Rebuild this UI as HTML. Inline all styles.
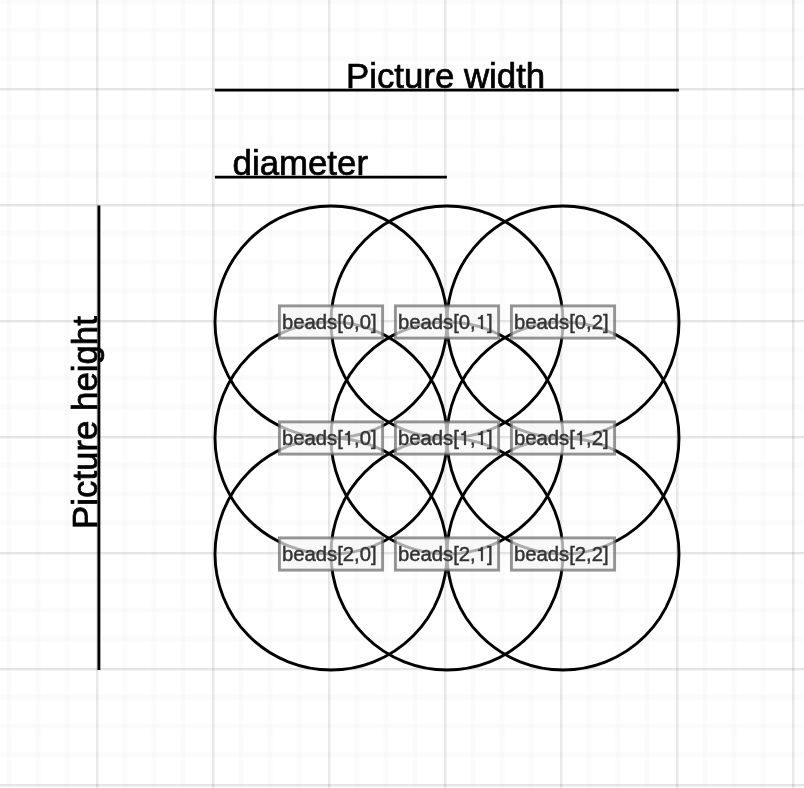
<!DOCTYPE html>
<html><head><meta charset="utf-8"><style>
html,body{margin:0;padding:0;background:#fff;width:804px;height:788px;overflow:hidden}
svg{display:block;will-change:transform}
text{font-family:"Liberation Sans",sans-serif}
.lb{fill:#f5f5f5;fill-opacity:0.7;stroke:#666;stroke-opacity:0.7;stroke-width:2.9}
.lt{font-size:20.3px;fill:#333;stroke:#333;stroke-width:0.45}
.h{fill:none;stroke:none}
.one{fill:#333;stroke:#333;stroke-width:12}
.big{font-size:34.8px;fill:#000;stroke:#000;stroke-width:0.7}
</style></head><body>
<svg width="804" height="788" viewBox="0 0 804 788">
<g fill="#000" shape-rendering="crispEdges">
<rect x="6" y="0" width="1" height="788" fill-opacity="0.008"/>
<rect x="7" y="0" width="1" height="788" fill-opacity="0.016"/>
<rect x="8" y="0" width="1" height="788" fill-opacity="0.016"/>
<rect x="9" y="0" width="1" height="788" fill-opacity="0.016"/>
<rect x="10" y="0" width="1" height="788" fill-opacity="0.016"/>
<rect x="11" y="0" width="1" height="788" fill-opacity="0.008"/>
<rect x="35" y="0" width="1" height="788" fill-opacity="0.008"/>
<rect x="36" y="0" width="1" height="788" fill-opacity="0.016"/>
<rect x="37" y="0" width="1" height="788" fill-opacity="0.016"/>
<rect x="38" y="0" width="1" height="788" fill-opacity="0.016"/>
<rect x="39" y="0" width="1" height="788" fill-opacity="0.016"/>
<rect x="40" y="0" width="1" height="788" fill-opacity="0.008"/>
<rect x="64" y="0" width="1" height="788" fill-opacity="0.008"/>
<rect x="65" y="0" width="1" height="788" fill-opacity="0.016"/>
<rect x="66" y="0" width="1" height="788" fill-opacity="0.016"/>
<rect x="67" y="0" width="1" height="788" fill-opacity="0.016"/>
<rect x="68" y="0" width="1" height="788" fill-opacity="0.016"/>
<rect x="69" y="0" width="1" height="788" fill-opacity="0.008"/>
<rect x="122" y="0" width="1" height="788" fill-opacity="0.008"/>
<rect x="123" y="0" width="1" height="788" fill-opacity="0.016"/>
<rect x="124" y="0" width="1" height="788" fill-opacity="0.016"/>
<rect x="125" y="0" width="1" height="788" fill-opacity="0.016"/>
<rect x="126" y="0" width="1" height="788" fill-opacity="0.016"/>
<rect x="127" y="0" width="1" height="788" fill-opacity="0.008"/>
<rect x="151" y="0" width="1" height="788" fill-opacity="0.008"/>
<rect x="152" y="0" width="1" height="788" fill-opacity="0.016"/>
<rect x="153" y="0" width="1" height="788" fill-opacity="0.016"/>
<rect x="154" y="0" width="1" height="788" fill-opacity="0.016"/>
<rect x="155" y="0" width="1" height="788" fill-opacity="0.016"/>
<rect x="156" y="0" width="1" height="788" fill-opacity="0.008"/>
<rect x="180" y="0" width="1" height="788" fill-opacity="0.008"/>
<rect x="181" y="0" width="1" height="788" fill-opacity="0.016"/>
<rect x="182" y="0" width="1" height="788" fill-opacity="0.016"/>
<rect x="183" y="0" width="1" height="788" fill-opacity="0.016"/>
<rect x="184" y="0" width="1" height="788" fill-opacity="0.016"/>
<rect x="185" y="0" width="1" height="788" fill-opacity="0.008"/>
<rect x="238" y="0" width="1" height="788" fill-opacity="0.008"/>
<rect x="239" y="0" width="1" height="788" fill-opacity="0.016"/>
<rect x="240" y="0" width="1" height="788" fill-opacity="0.016"/>
<rect x="241" y="0" width="1" height="788" fill-opacity="0.016"/>
<rect x="242" y="0" width="1" height="788" fill-opacity="0.016"/>
<rect x="243" y="0" width="1" height="788" fill-opacity="0.008"/>
<rect x="267" y="0" width="1" height="788" fill-opacity="0.008"/>
<rect x="268" y="0" width="1" height="788" fill-opacity="0.016"/>
<rect x="269" y="0" width="1" height="788" fill-opacity="0.016"/>
<rect x="270" y="0" width="1" height="788" fill-opacity="0.016"/>
<rect x="271" y="0" width="1" height="788" fill-opacity="0.016"/>
<rect x="272" y="0" width="1" height="788" fill-opacity="0.008"/>
<rect x="296" y="0" width="1" height="788" fill-opacity="0.008"/>
<rect x="297" y="0" width="1" height="788" fill-opacity="0.016"/>
<rect x="298" y="0" width="1" height="788" fill-opacity="0.016"/>
<rect x="299" y="0" width="1" height="788" fill-opacity="0.016"/>
<rect x="300" y="0" width="1" height="788" fill-opacity="0.016"/>
<rect x="301" y="0" width="1" height="788" fill-opacity="0.008"/>
<rect x="354" y="0" width="1" height="788" fill-opacity="0.008"/>
<rect x="355" y="0" width="1" height="788" fill-opacity="0.016"/>
<rect x="356" y="0" width="1" height="788" fill-opacity="0.016"/>
<rect x="357" y="0" width="1" height="788" fill-opacity="0.016"/>
<rect x="358" y="0" width="1" height="788" fill-opacity="0.016"/>
<rect x="359" y="0" width="1" height="788" fill-opacity="0.008"/>
<rect x="383" y="0" width="1" height="788" fill-opacity="0.008"/>
<rect x="384" y="0" width="1" height="788" fill-opacity="0.016"/>
<rect x="385" y="0" width="1" height="788" fill-opacity="0.016"/>
<rect x="386" y="0" width="1" height="788" fill-opacity="0.016"/>
<rect x="387" y="0" width="1" height="788" fill-opacity="0.016"/>
<rect x="388" y="0" width="1" height="788" fill-opacity="0.008"/>
<rect x="412" y="0" width="1" height="788" fill-opacity="0.008"/>
<rect x="413" y="0" width="1" height="788" fill-opacity="0.016"/>
<rect x="414" y="0" width="1" height="788" fill-opacity="0.016"/>
<rect x="415" y="0" width="1" height="788" fill-opacity="0.016"/>
<rect x="416" y="0" width="1" height="788" fill-opacity="0.016"/>
<rect x="417" y="0" width="1" height="788" fill-opacity="0.008"/>
<rect x="470" y="0" width="1" height="788" fill-opacity="0.008"/>
<rect x="471" y="0" width="1" height="788" fill-opacity="0.016"/>
<rect x="472" y="0" width="1" height="788" fill-opacity="0.016"/>
<rect x="473" y="0" width="1" height="788" fill-opacity="0.016"/>
<rect x="474" y="0" width="1" height="788" fill-opacity="0.016"/>
<rect x="475" y="0" width="1" height="788" fill-opacity="0.008"/>
<rect x="499" y="0" width="1" height="788" fill-opacity="0.008"/>
<rect x="500" y="0" width="1" height="788" fill-opacity="0.016"/>
<rect x="501" y="0" width="1" height="788" fill-opacity="0.016"/>
<rect x="502" y="0" width="1" height="788" fill-opacity="0.016"/>
<rect x="503" y="0" width="1" height="788" fill-opacity="0.016"/>
<rect x="504" y="0" width="1" height="788" fill-opacity="0.008"/>
<rect x="528" y="0" width="1" height="788" fill-opacity="0.008"/>
<rect x="529" y="0" width="1" height="788" fill-opacity="0.016"/>
<rect x="530" y="0" width="1" height="788" fill-opacity="0.016"/>
<rect x="531" y="0" width="1" height="788" fill-opacity="0.016"/>
<rect x="532" y="0" width="1" height="788" fill-opacity="0.016"/>
<rect x="533" y="0" width="1" height="788" fill-opacity="0.008"/>
<rect x="586" y="0" width="1" height="788" fill-opacity="0.008"/>
<rect x="587" y="0" width="1" height="788" fill-opacity="0.016"/>
<rect x="588" y="0" width="1" height="788" fill-opacity="0.016"/>
<rect x="589" y="0" width="1" height="788" fill-opacity="0.016"/>
<rect x="590" y="0" width="1" height="788" fill-opacity="0.016"/>
<rect x="591" y="0" width="1" height="788" fill-opacity="0.008"/>
<rect x="615" y="0" width="1" height="788" fill-opacity="0.008"/>
<rect x="616" y="0" width="1" height="788" fill-opacity="0.016"/>
<rect x="617" y="0" width="1" height="788" fill-opacity="0.016"/>
<rect x="618" y="0" width="1" height="788" fill-opacity="0.016"/>
<rect x="619" y="0" width="1" height="788" fill-opacity="0.016"/>
<rect x="620" y="0" width="1" height="788" fill-opacity="0.008"/>
<rect x="644" y="0" width="1" height="788" fill-opacity="0.008"/>
<rect x="645" y="0" width="1" height="788" fill-opacity="0.016"/>
<rect x="646" y="0" width="1" height="788" fill-opacity="0.016"/>
<rect x="647" y="0" width="1" height="788" fill-opacity="0.016"/>
<rect x="648" y="0" width="1" height="788" fill-opacity="0.016"/>
<rect x="649" y="0" width="1" height="788" fill-opacity="0.008"/>
<rect x="702" y="0" width="1" height="788" fill-opacity="0.008"/>
<rect x="703" y="0" width="1" height="788" fill-opacity="0.016"/>
<rect x="704" y="0" width="1" height="788" fill-opacity="0.016"/>
<rect x="705" y="0" width="1" height="788" fill-opacity="0.016"/>
<rect x="706" y="0" width="1" height="788" fill-opacity="0.016"/>
<rect x="707" y="0" width="1" height="788" fill-opacity="0.008"/>
<rect x="731" y="0" width="1" height="788" fill-opacity="0.008"/>
<rect x="732" y="0" width="1" height="788" fill-opacity="0.016"/>
<rect x="733" y="0" width="1" height="788" fill-opacity="0.016"/>
<rect x="734" y="0" width="1" height="788" fill-opacity="0.016"/>
<rect x="735" y="0" width="1" height="788" fill-opacity="0.016"/>
<rect x="736" y="0" width="1" height="788" fill-opacity="0.008"/>
<rect x="760" y="0" width="1" height="788" fill-opacity="0.008"/>
<rect x="761" y="0" width="1" height="788" fill-opacity="0.016"/>
<rect x="762" y="0" width="1" height="788" fill-opacity="0.016"/>
<rect x="763" y="0" width="1" height="788" fill-opacity="0.016"/>
<rect x="764" y="0" width="1" height="788" fill-opacity="0.016"/>
<rect x="765" y="0" width="1" height="788" fill-opacity="0.008"/>
<rect x="0" y="0" width="804" height="1" fill-opacity="0.016"/>
<rect x="0" y="1" width="804" height="1" fill-opacity="0.016"/>
<rect x="0" y="2" width="804" height="1" fill-opacity="0.016"/>
<rect x="0" y="3" width="804" height="1" fill-opacity="0.008"/>
<rect x="0" y="27" width="804" height="1" fill-opacity="0.008"/>
<rect x="0" y="28" width="804" height="1" fill-opacity="0.016"/>
<rect x="0" y="29" width="804" height="1" fill-opacity="0.016"/>
<rect x="0" y="30" width="804" height="1" fill-opacity="0.016"/>
<rect x="0" y="31" width="804" height="1" fill-opacity="0.016"/>
<rect x="0" y="32" width="804" height="1" fill-opacity="0.008"/>
<rect x="0" y="56" width="804" height="1" fill-opacity="0.008"/>
<rect x="0" y="57" width="804" height="1" fill-opacity="0.016"/>
<rect x="0" y="58" width="804" height="1" fill-opacity="0.016"/>
<rect x="0" y="59" width="804" height="1" fill-opacity="0.016"/>
<rect x="0" y="60" width="804" height="1" fill-opacity="0.016"/>
<rect x="0" y="61" width="804" height="1" fill-opacity="0.008"/>
<rect x="0" y="114" width="804" height="1" fill-opacity="0.008"/>
<rect x="0" y="115" width="804" height="1" fill-opacity="0.016"/>
<rect x="0" y="116" width="804" height="1" fill-opacity="0.016"/>
<rect x="0" y="117" width="804" height="1" fill-opacity="0.016"/>
<rect x="0" y="118" width="804" height="1" fill-opacity="0.016"/>
<rect x="0" y="119" width="804" height="1" fill-opacity="0.008"/>
<rect x="0" y="143" width="804" height="1" fill-opacity="0.008"/>
<rect x="0" y="144" width="804" height="1" fill-opacity="0.016"/>
<rect x="0" y="145" width="804" height="1" fill-opacity="0.016"/>
<rect x="0" y="146" width="804" height="1" fill-opacity="0.016"/>
<rect x="0" y="147" width="804" height="1" fill-opacity="0.016"/>
<rect x="0" y="148" width="804" height="1" fill-opacity="0.008"/>
<rect x="0" y="172" width="804" height="1" fill-opacity="0.008"/>
<rect x="0" y="173" width="804" height="1" fill-opacity="0.016"/>
<rect x="0" y="174" width="804" height="1" fill-opacity="0.016"/>
<rect x="0" y="175" width="804" height="1" fill-opacity="0.016"/>
<rect x="0" y="176" width="804" height="1" fill-opacity="0.016"/>
<rect x="0" y="177" width="804" height="1" fill-opacity="0.008"/>
<rect x="0" y="230" width="804" height="1" fill-opacity="0.008"/>
<rect x="0" y="231" width="804" height="1" fill-opacity="0.016"/>
<rect x="0" y="232" width="804" height="1" fill-opacity="0.016"/>
<rect x="0" y="233" width="804" height="1" fill-opacity="0.016"/>
<rect x="0" y="234" width="804" height="1" fill-opacity="0.016"/>
<rect x="0" y="235" width="804" height="1" fill-opacity="0.008"/>
<rect x="0" y="259" width="804" height="1" fill-opacity="0.008"/>
<rect x="0" y="260" width="804" height="1" fill-opacity="0.016"/>
<rect x="0" y="261" width="804" height="1" fill-opacity="0.016"/>
<rect x="0" y="262" width="804" height="1" fill-opacity="0.016"/>
<rect x="0" y="263" width="804" height="1" fill-opacity="0.016"/>
<rect x="0" y="264" width="804" height="1" fill-opacity="0.008"/>
<rect x="0" y="288" width="804" height="1" fill-opacity="0.008"/>
<rect x="0" y="289" width="804" height="1" fill-opacity="0.016"/>
<rect x="0" y="290" width="804" height="1" fill-opacity="0.016"/>
<rect x="0" y="291" width="804" height="1" fill-opacity="0.016"/>
<rect x="0" y="292" width="804" height="1" fill-opacity="0.016"/>
<rect x="0" y="293" width="804" height="1" fill-opacity="0.008"/>
<rect x="0" y="346" width="804" height="1" fill-opacity="0.008"/>
<rect x="0" y="347" width="804" height="1" fill-opacity="0.016"/>
<rect x="0" y="348" width="804" height="1" fill-opacity="0.016"/>
<rect x="0" y="349" width="804" height="1" fill-opacity="0.016"/>
<rect x="0" y="350" width="804" height="1" fill-opacity="0.016"/>
<rect x="0" y="351" width="804" height="1" fill-opacity="0.008"/>
<rect x="0" y="375" width="804" height="1" fill-opacity="0.008"/>
<rect x="0" y="376" width="804" height="1" fill-opacity="0.016"/>
<rect x="0" y="377" width="804" height="1" fill-opacity="0.016"/>
<rect x="0" y="378" width="804" height="1" fill-opacity="0.016"/>
<rect x="0" y="379" width="804" height="1" fill-opacity="0.016"/>
<rect x="0" y="380" width="804" height="1" fill-opacity="0.008"/>
<rect x="0" y="404" width="804" height="1" fill-opacity="0.008"/>
<rect x="0" y="405" width="804" height="1" fill-opacity="0.016"/>
<rect x="0" y="406" width="804" height="1" fill-opacity="0.016"/>
<rect x="0" y="407" width="804" height="1" fill-opacity="0.016"/>
<rect x="0" y="408" width="804" height="1" fill-opacity="0.016"/>
<rect x="0" y="409" width="804" height="1" fill-opacity="0.008"/>
<rect x="0" y="462" width="804" height="1" fill-opacity="0.008"/>
<rect x="0" y="463" width="804" height="1" fill-opacity="0.016"/>
<rect x="0" y="464" width="804" height="1" fill-opacity="0.016"/>
<rect x="0" y="465" width="804" height="1" fill-opacity="0.016"/>
<rect x="0" y="466" width="804" height="1" fill-opacity="0.016"/>
<rect x="0" y="467" width="804" height="1" fill-opacity="0.008"/>
<rect x="0" y="491" width="804" height="1" fill-opacity="0.008"/>
<rect x="0" y="492" width="804" height="1" fill-opacity="0.016"/>
<rect x="0" y="493" width="804" height="1" fill-opacity="0.016"/>
<rect x="0" y="494" width="804" height="1" fill-opacity="0.016"/>
<rect x="0" y="495" width="804" height="1" fill-opacity="0.016"/>
<rect x="0" y="496" width="804" height="1" fill-opacity="0.008"/>
<rect x="0" y="520" width="804" height="1" fill-opacity="0.008"/>
<rect x="0" y="521" width="804" height="1" fill-opacity="0.016"/>
<rect x="0" y="522" width="804" height="1" fill-opacity="0.016"/>
<rect x="0" y="523" width="804" height="1" fill-opacity="0.016"/>
<rect x="0" y="524" width="804" height="1" fill-opacity="0.016"/>
<rect x="0" y="525" width="804" height="1" fill-opacity="0.008"/>
<rect x="0" y="578" width="804" height="1" fill-opacity="0.008"/>
<rect x="0" y="579" width="804" height="1" fill-opacity="0.016"/>
<rect x="0" y="580" width="804" height="1" fill-opacity="0.016"/>
<rect x="0" y="581" width="804" height="1" fill-opacity="0.016"/>
<rect x="0" y="582" width="804" height="1" fill-opacity="0.016"/>
<rect x="0" y="583" width="804" height="1" fill-opacity="0.008"/>
<rect x="0" y="607" width="804" height="1" fill-opacity="0.008"/>
<rect x="0" y="608" width="804" height="1" fill-opacity="0.016"/>
<rect x="0" y="609" width="804" height="1" fill-opacity="0.016"/>
<rect x="0" y="610" width="804" height="1" fill-opacity="0.016"/>
<rect x="0" y="611" width="804" height="1" fill-opacity="0.016"/>
<rect x="0" y="612" width="804" height="1" fill-opacity="0.008"/>
<rect x="0" y="636" width="804" height="1" fill-opacity="0.008"/>
<rect x="0" y="637" width="804" height="1" fill-opacity="0.016"/>
<rect x="0" y="638" width="804" height="1" fill-opacity="0.016"/>
<rect x="0" y="639" width="804" height="1" fill-opacity="0.016"/>
<rect x="0" y="640" width="804" height="1" fill-opacity="0.016"/>
<rect x="0" y="641" width="804" height="1" fill-opacity="0.008"/>
<rect x="0" y="694" width="804" height="1" fill-opacity="0.008"/>
<rect x="0" y="695" width="804" height="1" fill-opacity="0.016"/>
<rect x="0" y="696" width="804" height="1" fill-opacity="0.016"/>
<rect x="0" y="697" width="804" height="1" fill-opacity="0.016"/>
<rect x="0" y="698" width="804" height="1" fill-opacity="0.016"/>
<rect x="0" y="699" width="804" height="1" fill-opacity="0.008"/>
<rect x="0" y="723" width="804" height="1" fill-opacity="0.008"/>
<rect x="0" y="724" width="804" height="1" fill-opacity="0.016"/>
<rect x="0" y="725" width="804" height="1" fill-opacity="0.016"/>
<rect x="0" y="726" width="804" height="1" fill-opacity="0.016"/>
<rect x="0" y="727" width="804" height="1" fill-opacity="0.016"/>
<rect x="0" y="728" width="804" height="1" fill-opacity="0.008"/>
<rect x="0" y="752" width="804" height="1" fill-opacity="0.008"/>
<rect x="0" y="753" width="804" height="1" fill-opacity="0.016"/>
<rect x="0" y="754" width="804" height="1" fill-opacity="0.016"/>
<rect x="0" y="755" width="804" height="1" fill-opacity="0.016"/>
<rect x="0" y="756" width="804" height="1" fill-opacity="0.016"/>
<rect x="0" y="757" width="804" height="1" fill-opacity="0.008"/>
<rect x="96" y="0" width="1" height="788" fill-opacity="0.098"/>
<rect x="97" y="0" width="1" height="788" fill-opacity="0.078"/>
<rect x="98" y="0" width="1" height="788" fill-opacity="0.043"/>
<rect x="212" y="0" width="1" height="788" fill-opacity="0.098"/>
<rect x="213" y="0" width="1" height="788" fill-opacity="0.078"/>
<rect x="214" y="0" width="1" height="788" fill-opacity="0.043"/>
<rect x="328" y="0" width="1" height="788" fill-opacity="0.098"/>
<rect x="329" y="0" width="1" height="788" fill-opacity="0.078"/>
<rect x="330" y="0" width="1" height="788" fill-opacity="0.043"/>
<rect x="444" y="0" width="1" height="788" fill-opacity="0.098"/>
<rect x="445" y="0" width="1" height="788" fill-opacity="0.078"/>
<rect x="446" y="0" width="1" height="788" fill-opacity="0.043"/>
<rect x="560" y="0" width="1" height="788" fill-opacity="0.098"/>
<rect x="561" y="0" width="1" height="788" fill-opacity="0.078"/>
<rect x="562" y="0" width="1" height="788" fill-opacity="0.043"/>
<rect x="676" y="0" width="1" height="788" fill-opacity="0.098"/>
<rect x="677" y="0" width="1" height="788" fill-opacity="0.078"/>
<rect x="678" y="0" width="1" height="788" fill-opacity="0.043"/>
<rect x="792" y="0" width="1" height="788" fill-opacity="0.098"/>
<rect x="793" y="0" width="1" height="788" fill-opacity="0.078"/>
<rect x="794" y="0" width="1" height="788" fill-opacity="0.043"/>
<rect x="0" y="88" width="804" height="1" fill-opacity="0.11"/>
<rect x="0" y="89" width="804" height="1" fill-opacity="0.09"/>
<rect x="0" y="90" width="804" height="1" fill-opacity="0.039"/>
<rect x="0" y="204" width="804" height="1" fill-opacity="0.11"/>
<rect x="0" y="205" width="804" height="1" fill-opacity="0.09"/>
<rect x="0" y="206" width="804" height="1" fill-opacity="0.039"/>
<rect x="0" y="320" width="804" height="1" fill-opacity="0.11"/>
<rect x="0" y="321" width="804" height="1" fill-opacity="0.09"/>
<rect x="0" y="322" width="804" height="1" fill-opacity="0.039"/>
<rect x="0" y="436" width="804" height="1" fill-opacity="0.11"/>
<rect x="0" y="437" width="804" height="1" fill-opacity="0.09"/>
<rect x="0" y="438" width="804" height="1" fill-opacity="0.039"/>
<rect x="0" y="552" width="804" height="1" fill-opacity="0.11"/>
<rect x="0" y="553" width="804" height="1" fill-opacity="0.09"/>
<rect x="0" y="554" width="804" height="1" fill-opacity="0.039"/>
<rect x="0" y="668" width="804" height="1" fill-opacity="0.11"/>
<rect x="0" y="669" width="804" height="1" fill-opacity="0.09"/>
<rect x="0" y="670" width="804" height="1" fill-opacity="0.039"/>
<rect x="0" y="784" width="804" height="1" fill-opacity="0.11"/>
<rect x="0" y="785" width="804" height="1" fill-opacity="0.09"/>
<rect x="0" y="786" width="804" height="1" fill-opacity="0.039"/>
</g>
<g fill="none" stroke="#000" stroke-width="2.9">
<circle cx="331" cy="322" r="116"/>
<circle cx="447" cy="322" r="116"/>
<circle cx="563" cy="322" r="116"/>
<circle cx="331" cy="438" r="116"/>
<circle cx="447" cy="438" r="116"/>
<circle cx="563" cy="438" r="116"/>
<circle cx="331" cy="554" r="116"/>
<circle cx="447" cy="554" r="116"/>
<circle cx="563" cy="554" r="116"/>
</g>
<g stroke="#000" stroke-width="2.9">
<line x1="214.9" y1="90.1" x2="678.9" y2="90.1"/>
<line x1="214.9" y1="177.1" x2="446.9" y2="177.1"/>
<line x1="98.9" y1="205.6" x2="98.9" y2="669.9"/>
</g>
<text class="big" x="346" y="88">Picture width</text>
<text class="big" x="232.6" y="174.8">diameter</text>
<text class="big" transform="translate(96.7,528.9) rotate(-90)" x="0" y="0">Picture height</text>
<rect x="279.4" y="305.9" width="103.2" height="32.2" class="lb"/>
<text x="281.9" y="329.0" class="lt">beads[0,0]</text>
<rect x="395.4" y="305.9" width="103.2" height="32.2" class="lb"/>
<text x="397.9" y="329.0" class="lt">beads[0,<tspan class="h">1</tspan>]</text>
<path class="one" transform="translate(475.70,329.0) scale(0.0203,-0.0203)" d="M352 0L261 0L261 490L113 490L113 555C195 560 250 600 272 690L352 690Z"/>
<rect x="511.4" y="305.9" width="103.2" height="32.2" class="lb"/>
<text x="513.9" y="329.0" class="lt">beads[0,2]</text>
<rect x="279.4" y="421.9" width="103.2" height="32.2" class="lb"/>
<text x="281.9" y="445.0" class="lt">beads[<tspan class="h">1</tspan>,0]</text>
<path class="one" transform="translate(342.79,445.0) scale(0.0203,-0.0203)" d="M352 0L261 0L261 490L113 490L113 555C195 560 250 600 272 690L352 690Z"/>
<rect x="395.4" y="421.9" width="103.2" height="32.2" class="lb"/>
<text x="397.9" y="445.0" class="lt">beads[<tspan class="h">1</tspan>,<tspan class="h">1</tspan>]</text>
<path class="one" transform="translate(458.79,445.0) scale(0.0203,-0.0203)" d="M352 0L261 0L261 490L113 490L113 555C195 560 250 600 272 690L352 690Z"/>
<path class="one" transform="translate(475.70,445.0) scale(0.0203,-0.0203)" d="M352 0L261 0L261 490L113 490L113 555C195 560 250 600 272 690L352 690Z"/>
<rect x="511.4" y="421.9" width="103.2" height="32.2" class="lb"/>
<text x="513.9" y="445.0" class="lt">beads[<tspan class="h">1</tspan>,2]</text>
<path class="one" transform="translate(574.79,445.0) scale(0.0203,-0.0203)" d="M352 0L261 0L261 490L113 490L113 555C195 560 250 600 272 690L352 690Z"/>
<rect x="279.4" y="537.9" width="103.2" height="32.2" class="lb"/>
<text x="281.9" y="561.0" class="lt">beads[2,0]</text>
<rect x="395.4" y="537.9" width="103.2" height="32.2" class="lb"/>
<text x="397.9" y="561.0" class="lt">beads[2,<tspan class="h">1</tspan>]</text>
<path class="one" transform="translate(475.70,561.0) scale(0.0203,-0.0203)" d="M352 0L261 0L261 490L113 490L113 555C195 560 250 600 272 690L352 690Z"/>
<rect x="511.4" y="537.9" width="103.2" height="32.2" class="lb"/>
<text x="513.9" y="561.0" class="lt">beads[2,2]</text>
</svg>
</body></html>
